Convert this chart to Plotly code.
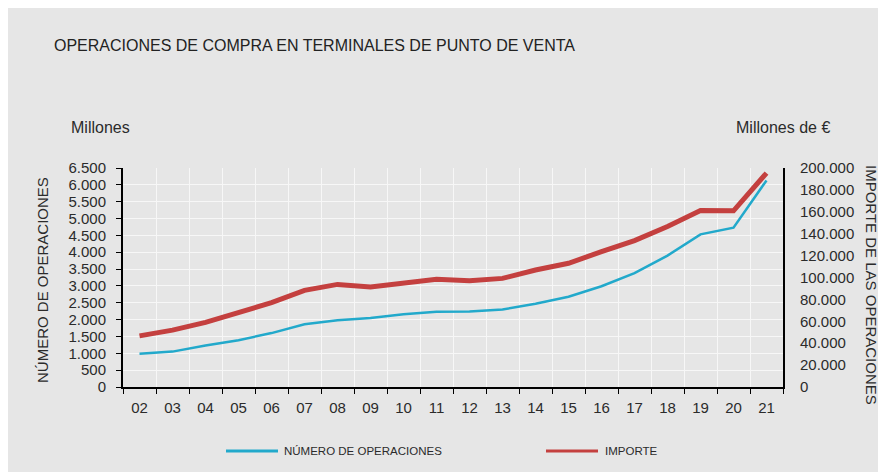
import plotly.graph_objects as go

years = ["02", "03", "04", "05", "06", "07", "08", "09", "10", "11",
         "12", "13", "14", "15", "16", "17", "18", "19", "20", "21"]
operaciones = [990, 1050, 1230, 1390, 1600, 1860, 1980, 2050, 2160, 2230,
               2240, 2300, 2470, 2680, 2990, 3380, 3900, 4530, 4730, 6130]
importe = [46700, 51900, 59000, 68500, 77000, 88300, 93700, 91400, 95300, 98300,
           97100, 99200, 106800, 113000, 123600, 133700, 146500, 161200, 160900, 195400]

left_ticks = list(range(0, 6501, 500))
right_ticks = list(range(0, 200001, 20000))

BLUE = "#22A9CB"
RED = "#C4403F"
BG = "#E6E6E6"
FONT = "Liberation Sans"
TXT = "#2b2b2b"

OFF = 8  # page body margin
W, H = 886 - OFF, 472 - OFF
# plot area geometry (page px)
L, R, T, B = 123, 783, 168, 387
pw, ph = R - L, B - T


def px(x):
    return (x - L) / pw


def py(y):
    return (B - y) / ph


fig = go.Figure()
fig.add_trace(go.Scatter(x=years, y=operaciones, name="NÚMERO DE OPERACIONES",
                         mode="lines", line=dict(color=BLUE, width=2.5), yaxis="y"))
fig.add_trace(go.Scatter(x=years, y=importe, name="IMPORTE",
                         mode="lines", line=dict(color=RED, width=5), yaxis="y2"))

fig.update_layout(
    width=W, height=H,
    margin=dict(l=L - OFF, r=(886 - R), t=T - OFF, b=(472 - B), pad=0),
    paper_bgcolor=BG,
    plot_bgcolor=BG,
    separators=",.",
    font=dict(family=FONT, size=13, color=TXT),
    showlegend=False,
    xaxis=dict(type="category", tickson="boundaries", showgrid=True, gridcolor="#F7F7F7",
               gridwidth=1, showline=True, linecolor="black", linewidth=1.5,
               ticks="outside", ticklen=5, tickcolor="black", ticklabelstandoff=6,
               tickfont=dict(size=15), range=[-0.5, 19.5], fixedrange=True),
    yaxis=dict(range=[0, 6500], tickvals=left_ticks, tickformat=",d",
               showgrid=True, gridcolor="#F7F7F7", gridwidth=1,
               showline=True, linecolor="black", linewidth=2,
               ticks="outside", ticklen=5, tickcolor="black", ticklabelstandoff=7,
               tickfont=dict(size=15), zeroline=False),
    yaxis2=dict(range=[0, 200000], tickvals=right_ticks, tickformat=",d",
                overlaying="y", side="right", showgrid=False,
                showline=True, linecolor="black", linewidth=2,
                ticks="", ticklabelstandoff=12,
                tickfont=dict(size=15), zeroline=False),
)

anns = [
    dict(text="OPERACIONES DE COMPRA EN TERMINALES DE PUNTO DE VENTA", x=px(52), y=py(45),
         xanchor="left", yanchor="middle", font=dict(size=16, color="#222222")),
    dict(text="Millones", x=px(69), y=py(127), xanchor="left", yanchor="middle",
         font=dict(size=16)),
    dict(text="Millones de €", x=px(734), y=py(127), xanchor="left", yanchor="middle",
         font=dict(size=16)),
    dict(text="NÚMERO DE OPERACIONES", x=px(42), y=py(280), textangle=-90,
         xanchor="center", yanchor="middle", font=dict(size=15)),
    dict(text="IMPORTE DE LAS OPERACIONES", x=px(872), y=py(285), textangle=90,
         xanchor="center", yanchor="middle", font=dict(size=15)),
]
for a in anns:
    fig.add_annotation(xref="paper", yref="paper", showarrow=False, **a)

# legend (drawn manually to match the reference layout)
legend_items = [("NÚMERO DE OPERACIONES", BLUE, 226, 278, 282),
                ("IMPORTE", RED, 546, 598, 603)]
for label, color, x0, x1, tx in legend_items:
    fig.add_shape(type="line", xref="paper", yref="paper",
                  x0=px(x0), x1=px(x1), y0=py(451), y1=py(451),
                  line=dict(color=color, width=3))
    fig.add_annotation(xref="paper", yref="paper", showarrow=False, text=label,
                       x=px(tx), y=py(451), xanchor="left", yanchor="middle",
                       font=dict(size=11.5, color=TXT))

fig.write_html("out.html")
